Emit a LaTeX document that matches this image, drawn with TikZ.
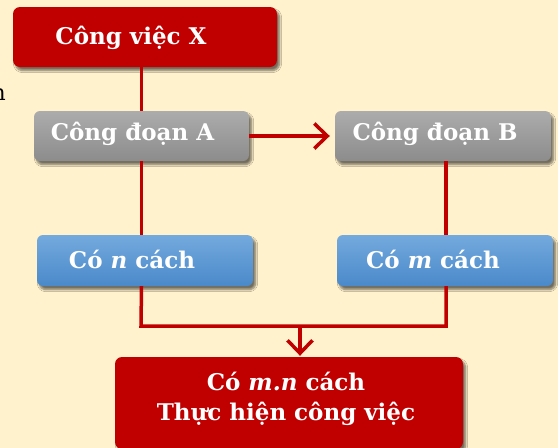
\documentclass[tikz,border=0pt]{standalone}
\usepackage{fontspec}
\setmainfont{DejaVu Serif}
\usetikzlibrary{arrows.meta,shadows.blur,calc}
\definecolor{bgc}{HTML}{FFF2CC}
\definecolor{redc}{HTML}{C00000}
\definecolor{graytop}{HTML}{ACACAC}
\definecolor{graybot}{HTML}{8C8C8C}
\definecolor{bluetop}{HTML}{74AADD}
\definecolor{bluebot}{HTML}{4A89CA}
\tikzset{
  shad/.style={blur shadow={shadow xshift=2.5pt,shadow yshift=-3.5pt,shadow blur steps=6,shadow opacity=55}},
  redbox/.style={shad,fill=redc,rounded corners=7pt,draw=none,inner sep=0pt},
  graybox/.style={shad,top color=graytop,bottom color=graybot,rounded corners=6pt,draw=none,inner sep=0pt,minimum width=215pt,minimum height=50pt},
  bluebox/.style={shad,top color=bluetop,bottom color=bluebot,rounded corners=6pt,draw=none,inner sep=0pt,minimum width=216pt,minimum height=51pt},
  lbl/.style={text=white,font=\fontsize{23}{28}\selectfont\bfseries,inner sep=0pt},
  conn/.style={draw=redc,line width=3.5pt},
  tip/.style={-{Straight Barb[length=13pt,width=25pt]}}
}
\begin{document}
\begin{tikzpicture}[x=1pt,y=-1pt]
\useasboundingbox[fill=bgc] (0,0) rectangle (558,448);
\node[anchor=base east,font=\fontsize{22}{24}\selectfont,inner sep=0pt] (stray) at (6,100) {n};
% boxes
\node[redbox,minimum width=264pt,minimum height=60pt] (X) at (145,37) {};
\node[graybox] (A) at (141.5,136) {};
\node[graybox,minimum width=216pt] (B) at (443,136) {};
\node[bluebox] (N) at (145,260.5) {};
\node[bluebox] (M) at (445,260.5) {};
\node[redbox,minimum width=348pt,minimum height=92pt] (F) at (289,403) {};
% labels
\node[lbl] (tX) at ($(X.center)+(-14,1)$) {Công việc X};
\node[lbl] (tA) at ($(A.center)+(-9,-2)$) {Công đoạn A};
\node[lbl] (tB) at ($(B.center)+(-8,-2)$) {Công đoạn B};
\node[lbl] (tN) at ($(N.center)+(-13,-1)$) {Có \textit{n} cách};
\node[lbl] (tM) at ($(M.center)+(-12,-1)$) {Có \textit{m} cách};
\node[lbl,align=center] (tF) at ($(F.center)+(-3,-4)$) {Có \textit{m.n} cách\\[2pt]Thực hiện công việc};
% connectors
\coordinate (j1) at (141,326);
\coordinate (j2) at (446,326);
\coordinate (jm) at (300,326);
\draw[conn] (X.south -| A) -- (A.north);
\draw[conn] (A.south) -- (N.north -| A);
\draw[conn] (N.south -| A) -- (j1) -- (j2) -- (M.south -| j2);
\draw[conn] (B.south -| j2) -- (M.north -| j2);
\draw[conn,tip,shorten >=1pt] (jm) -- (F.north -| jm);
\draw[conn,tip,shorten >=5pt] (A.east) -- (B.west);
\end{tikzpicture}
\end{document}
